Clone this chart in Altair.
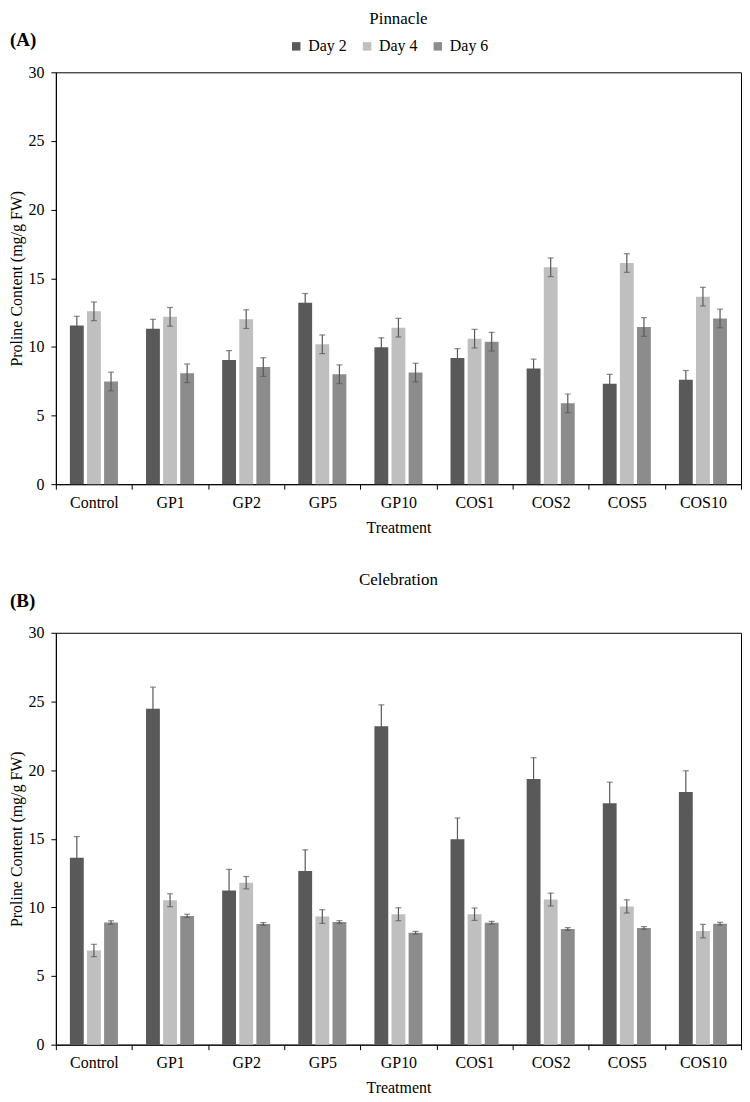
import altair as alt
import pandas as pd

treatments = ["Control", "GP1", "GP2", "GP5", "GP10", "COS1", "COS2", "COS5", "COS10"]
days = ["Day 2", "Day 4", "Day 6"]
colors = ["#595959", "#bfbfbf", "#8c8c8c"]

# Panel A: Pinnacle
a_day2 = [11.55, 11.33, 9.05, 13.21, 9.98, 9.19, 8.43, 7.32, 7.60]
a_day4 = [12.59, 12.19, 12.02, 10.19, 11.40, 10.60, 15.80, 16.11, 13.66]
a_day6 = [7.48, 8.08, 8.53, 8.01, 8.13, 10.38, 5.89, 11.45, 12.07]
a_err2 = [0.68, 0.68, 0.68, 0.68, 0.68, 0.68, 0.68, 0.68, 0.68]
a_err4 = [0.68, 0.68, 0.68, 0.68, 0.68, 0.68, 0.68, 0.68, 0.68]
a_err6 = [0.68, 0.68, 0.68, 0.68, 0.68, 0.68, 0.68, 0.68, 0.68]

# Panel B: Celebration
b_day2 = [13.62, 24.47, 11.23, 12.65, 23.19, 14.97, 19.35, 17.58, 18.41]
b_day4 = [6.86, 10.52, 11.80, 9.33, 9.50, 9.50, 10.57, 10.07, 8.27]
b_day6 = [8.90, 9.38, 8.79, 8.93, 8.15, 8.88, 8.43, 8.50, 8.81]
b_err2 = [1.54, 1.57, 1.54, 1.54, 1.56, 1.54, 1.55, 1.54, 1.54]
b_err4 = [0.45, 0.47, 0.45, 0.50, 0.47, 0.45, 0.47, 0.48, 0.49]
b_err6 = [0.12, 0.12, 0.10, 0.10, 0.10, 0.10, 0.10, 0.10, 0.10]

FONT = "Liberation Serif"
W, H = 687, 413
ERR_COLOR = "#595959"


def make_df(d2, d4, d6, e2, e4, e6):
    rows = []
    for vals, errs, day in ((d2, e2, days[0]), (d4, e4, days[1]), (d6, e6, days[2])):
        for t, v, e in zip(treatments, vals, errs):
            rows.append({"Treatment": t, "Day": day, "Value": v, "lo": v - e, "hi": v + e})
    return pd.DataFrame(rows)


def panel(title, tag, df):
    base = alt.Chart(df).encode(
        x=alt.X(
            "Treatment:N",
            sort=treatments,
            scale=alt.Scale(paddingInner=0, paddingOuter=0),
            axis=alt.Axis(
                title="Treatment",
                labelAngle=0,
                tickBand="extent",
                tickSize=5,
                labelPadding=5,
                titlePadding=9,
            ),
        ),
        xOffset=alt.XOffset(
            "Day:N", sort=days, scale=alt.Scale(paddingInner=0.19, paddingOuter=0.82)
        ),
    )
    bars = base.mark_bar().encode(
        y=alt.Y(
            "Value:Q",
            scale=alt.Scale(domain=[0, 30]),
            axis=alt.Axis(
                title="Proline Content (mg/g FW)",
                values=[0, 5, 10, 15, 20, 25, 30],
                grid=False,
                tickSize=5,
                labelPadding=7,
                titlePadding=3,
            ),
        ),
        color=alt.Color(
            "Day:N",
            sort=days,
            scale=alt.Scale(domain=days, range=colors),
            legend=alt.Legend(
                title=None,
                orient="none",
                direction="horizontal",
                legendX=233,
                legendY=-34,
                symbolType="square",
                symbolSize=72,
                symbolStrokeWidth=0,
                symbolOpacity=1,
                labelFont=FONT,
                labelFontSize=16,
                labelColor="black",
                columnPadding=12,
                labelOffset=4,
            ),
        ),
    )
    rules = base.mark_rule(color=ERR_COLOR, strokeWidth=1.2).encode(y="lo:Q", y2="hi:Q")
    cap_hi = base.mark_tick(orient="horizontal", size=6, thickness=1.2, color=ERR_COLOR).encode(y="hi:Q")
    cap_lo = base.mark_tick(orient="horizontal", size=6, thickness=1.2, color=ERR_COLOR).encode(y="lo:Q")
    lab = alt.Chart(pd.DataFrame({"t": [tag]})).mark_text(
        font=FONT, fontSize=19, fontWeight="bold", align="left", baseline="middle", color="black"
    ).encode(text="t:N", x=alt.value(-46), y=alt.value(-32))
    return alt.layer(bars, rules, cap_hi, cap_lo, lab).properties(
        width=W,
        height=H,
        title=alt.TitleParams(title, fontSize=17, font=FONT, fontWeight="normal", offset=3, color="black"),
    )


chart_a = panel("Pinnacle", "(A)", make_df(a_day2, a_day4, a_day6, a_err2, a_err4, a_err6))
chart_b = panel("Celebration", "(B)", make_df(b_day2, b_day4, b_day6, b_err2, b_err4, b_err6))

chart = (
    alt.vconcat(chart_a, chart_b, spacing=34)
    .properties(padding={"left": 0, "top": 0, "right": 0, "bottom": 0})
    .configure_view(stroke="black", strokeWidth=1)
    .configure_axis(
        labelFont=FONT,
        titleFont=FONT,
        labelFontSize=16,
        titleFontSize=16,
        titleFontWeight="normal",
        labelColor="black",
        titleColor="black",
        domainColor="black",
        tickColor="black",
    )
    .configure_title(anchor="middle")
)

chart.save("out.html", embed_options={"renderer": "svg", "actions": False})
